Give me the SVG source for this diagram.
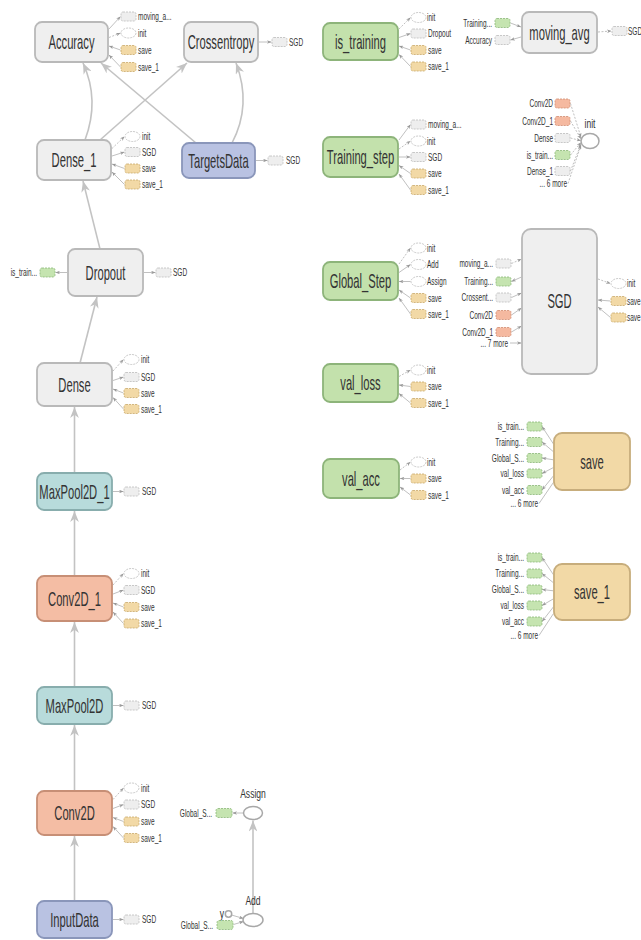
<svg xmlns="http://www.w3.org/2000/svg" width="641" height="940" viewBox="0 0 641 940">
<style>
.nb{stroke-width:1.8}
.n-grey{fill:#efefef;stroke:#b9b9b9}
.n-green{fill:#c3e1ac;stroke:#8db47a}
.n-blue{fill:#b9c2e2;stroke:#8a96ba}
.n-teal{fill:#b8dbdb;stroke:#88adad}
.n-salmon{fill:#f4bda4;stroke:#c78f76}
.n-tan{fill:#f2d9a6;stroke:#c7ad7c}
.sb{stroke-width:.8;stroke-dasharray:2 1}
.s-grey{fill:#eeeeee;stroke:#bcbcbc}
.s-tan{fill:#f2d9a6;stroke:#c9a96b}
.s-green{fill:#c5e4b0;stroke:#8cb878}
.s-salmon{fill:#f5b9a0;stroke:#d08d72}
.s-ell{fill:#ffffff;stroke:#bbbbbb;stroke-width:.8;stroke-dasharray:2 1}
.op{fill:#ffffff;stroke:#a8a8a8;stroke-width:1.5}
.nl{font-family:"Liberation Sans",Arial,sans-serif;font-size:20px;fill:#333333;text-anchor:middle}
.sl{font-family:"Liberation Sans",Arial,sans-serif;font-size:10.5px;fill:#333333}
.ol{font-family:"Liberation Sans",Arial,sans-serif;font-size:13px;fill:#333333;text-anchor:middle}
.r{text-anchor:end}
.e{stroke:#c3c3c3;stroke-width:1.6;fill:none;marker-end:url(#ah)}
.a{stroke:#b0b0b0;stroke-width:.8;fill:none}
.ae{marker-end:url(#sa)}
.as{marker-start:url(#sa)}
.d{stroke-dasharray:2 1.5}
</style>
<defs>
<marker id="ah" viewBox="0 0 10 8" refX="10" refY="4" markerWidth="11" markerHeight="8.8" markerUnits="userSpaceOnUse" orient="auto"><path d="M0,0 L10,4 L0,8 L3,4 z" fill="#c3c3c3"/></marker>
<marker id="sa" viewBox="0 0 10 8" refX="10" refY="4" markerWidth="4.5" markerHeight="3.6" markerUnits="userSpaceOnUse" orient="auto-start-reverse"><path d="M0,0 L10,4 L0,8 L3,4 z" fill="#999999"/></marker>
</defs>

<g id="connectors">
<line class="e" x1="74.5" y1="901" x2="74.5" y2="836"/>
<line class="e" x1="74.5" y1="791" x2="74.5" y2="725"/>
<line class="e" x1="74.5" y1="687" x2="74.5" y2="622"/>
<line class="e" x1="74.5" y1="576" x2="74.5" y2="511"/>
<line class="e" x1="74.5" y1="473" x2="74.5" y2="407"/>
<line class="e" x1="80" y1="363" x2="97" y2="297"/>
<line class="e" x1="100" y1="249" x2="83" y2="181"/>
<path class="e" d="M85,140 Q100,100 83,63"/>
<line class="e" x1="100" y1="140" x2="187" y2="63"/>
<line class="e" x1="196" y1="143" x2="101" y2="63"/>
<path class="e" d="M232,143 Q252,105 236,63"/>
<line class="e" x1="253" y1="913" x2="253" y2="820.5"/>

<line class="a ae" x1="109" y1="29" x2="120.5" y2="16.5"/>
<line class="a d ae" x1="109" y1="37.5" x2="120.5" y2="33"/>
<line class="a as" x1="109" y1="46" x2="120.5" y2="50"/>
<line class="a as" x1="109" y1="55" x2="120.5" y2="67"/>
<line class="a ae" x1="259" y1="42" x2="271.5" y2="42"/>
<line class="a d ae" x1="112" y1="148.5" x2="124.5" y2="136.5"/>
<line class="a ae" x1="112" y1="156" x2="124.5" y2="152"/>
<line class="a as" x1="112" y1="164" x2="124.5" y2="168.5"/>
<line class="a as" x1="112" y1="172" x2="124.5" y2="184.5"/>
<line class="a ae" x1="256" y1="160.5" x2="267.5" y2="160.5"/>
<line class="a ae" x1="144" y1="272.5" x2="155.5" y2="272.5"/>
<line class="a ae" x1="67" y1="272.5" x2="55.5" y2="272.5"/>
<line class="a d ae" x1="113" y1="371" x2="123.5" y2="359.5"/>
<line class="a ae" x1="113" y1="380.5" x2="123.5" y2="377"/>
<line class="a as" x1="113" y1="389" x2="123.5" y2="393"/>
<line class="a as" x1="113" y1="397.5" x2="123.5" y2="409"/>
<line class="a ae" x1="113" y1="491.5" x2="123.5" y2="491.5"/>
<line class="a d ae" x1="113" y1="585" x2="123.5" y2="573.5"/>
<line class="a ae" x1="113" y1="594" x2="123.5" y2="590"/>
<line class="a as" x1="113" y1="603" x2="123.5" y2="607"/>
<line class="a as" x1="113" y1="612" x2="123.5" y2="623.5"/>
<line class="a ae" x1="113" y1="705.5" x2="123.5" y2="705.5"/>
<line class="a d ae" x1="113" y1="799.5" x2="123.5" y2="788"/>
<line class="a ae" x1="113" y1="808.5" x2="123.5" y2="804.5"/>
<line class="a as" x1="113" y1="817.5" x2="123.5" y2="821.5"/>
<line class="a as" x1="113" y1="826.5" x2="123.5" y2="838"/>
<line class="a ae" x1="113" y1="919.5" x2="123.5" y2="919.5"/>

<line class="a d ae" x1="399" y1="29" x2="410.5" y2="17.5"/>
<line class="a ae" x1="399" y1="37.5" x2="410.5" y2="33.5"/>
<line class="a as" x1="399" y1="46" x2="410.5" y2="50"/>
<line class="a as" x1="399" y1="54.5" x2="410.5" y2="66.5"/>
<line class="a ae" x1="399" y1="140" x2="410.5" y2="124.5"/>
<line class="a d ae" x1="399" y1="149" x2="410.5" y2="141"/>
<line class="a ae" x1="399" y1="157" x2="410.5" y2="157"/>
<line class="a as" x1="399" y1="165.5" x2="410.5" y2="173.5"/>
<line class="a as" x1="399" y1="174" x2="410.5" y2="190"/>
<line class="a d ae" x1="399" y1="264" x2="410.5" y2="248"/>
<line class="a ae" x1="399" y1="272.5" x2="410.5" y2="264.5"/>
<line class="a as" x1="399" y1="281.5" x2="410.5" y2="281.5"/>
<line class="a as" x1="399" y1="290" x2="410.5" y2="298"/>
<line class="a as" x1="399" y1="298" x2="410.5" y2="314"/>
<line class="a d ae" x1="399" y1="376.5" x2="410.5" y2="370"/>
<line class="a as" x1="399" y1="385" x2="410.5" y2="386.5"/>
<line class="a as" x1="399" y1="393.5" x2="410.5" y2="403"/>
<line class="a d ae" x1="400" y1="470" x2="410.5" y2="462"/>
<line class="a as" x1="400" y1="478.5" x2="410.5" y2="478.5"/>
<line class="a as" x1="400" y1="487" x2="410.5" y2="495"/>

<line class="a ae" x1="510.5" y1="23" x2="521" y2="27"/>
<line class="a ae" x1="521" y1="37" x2="510.5" y2="40"/>
<line class="a d ae" x1="598" y1="32" x2="611.5" y2="31"/>

<line class="a d ae" x1="570.5" y1="103.5" x2="581" y2="137.3"/>
<line class="a d ae" x1="570.5" y1="121" x2="581" y2="139"/>
<line class="a d ae" x1="570.5" y1="138" x2="581" y2="140.7"/>
<line class="a d ae" x1="570.5" y1="155" x2="581" y2="142.4"/>
<line class="a d ae" x1="570.5" y1="171" x2="581" y2="144"/>
<line class="a d ae" x1="568" y1="183.5" x2="581" y2="145.3"/>

<line class="a d ae" x1="511.5" y1="263.5" x2="521.5" y2="259"/>
<line class="a ae" x1="521.5" y1="277" x2="511.5" y2="281.5"/>
<line class="a ae" x1="511.5" y1="297.5" x2="521.5" y2="293"/>
<line class="a ae" x1="511.5" y1="315" x2="521.5" y2="308"/>
<line class="a ae" x1="511.5" y1="332" x2="521.5" y2="326"/>
<line class="a ae" x1="510" y1="343" x2="521.5" y2="343"/>
<line class="a d ae" x1="598" y1="279" x2="610.5" y2="283.5"/>
<line class="a as" x1="598" y1="300" x2="610.5" y2="301"/>
<line class="a as" x1="598" y1="307" x2="610.5" y2="317.5"/>

<line class="a ae" x1="553.5" y1="444" x2="542" y2="426.5"/>
<line class="a ae" x1="553.5" y1="451.8" x2="542" y2="442"/>
<line class="a ae" x1="553.5" y1="459.8" x2="542" y2="458"/>
<line class="a ae" x1="553.5" y1="467.5" x2="542" y2="473.5"/>
<line class="a ae" x1="553.5" y1="475.8" x2="542" y2="490"/>
<line class="a" x1="553.5" y1="482.3" x2="539" y2="503.5"/>
<line class="a ae" x1="553.5" y1="574.8" x2="542" y2="557.5"/>
<line class="a ae" x1="553.5" y1="582.8" x2="542" y2="573.5"/>
<line class="a ae" x1="553.5" y1="590.8" x2="542" y2="589.5"/>
<line class="a ae" x1="553.5" y1="598.8" x2="542" y2="605.5"/>
<line class="a ae" x1="553.5" y1="606.8" x2="542" y2="621.5"/>
<line class="a" x1="553.5" y1="613.5" x2="539" y2="635.5"/>

<line class="a ae" x1="243" y1="813" x2="232.5" y2="813"/>
<line class="a ae" x1="231.5" y1="915" x2="243.5" y2="918.5"/>
<line class="a ae" x1="233.5" y1="924.5" x2="243.5" y2="921.5"/>
</g>

<g id="accuracy">
<rect class="nb n-grey" x="35" y="22" width="73" height="40" rx="7"/>
<text class="nl" transform="translate(71.5,49) scale(.56,1)">Accuracy</text>
<rect class="sb s-grey" x="121" y="12" width="15" height="9" rx="2"/>
<text class="sl" transform="translate(138,20) scale(.62,1)">moving_a...</text>
<ellipse class="s-ell" cx="128.5" cy="33" rx="7.5" ry="5"/>
<text class="sl" transform="translate(138,36.5) scale(.62,1)">init</text>
<rect class="sb s-tan" x="121" y="45.5" width="15" height="9" rx="2"/>
<text class="sl" transform="translate(138,53.5) scale(.62,1)">save</text>
<rect class="sb s-tan" x="121" y="62.5" width="15" height="9" rx="2"/>
<text class="sl" transform="translate(138,70.5) scale(.62,1)">save_1</text>
</g>

<g id="crossentropy">
<rect class="nb n-grey" x="184" y="22" width="74" height="40" rx="7"/>
<text class="nl" transform="translate(221,49) scale(.56,1)">Crossentropy</text>
<rect class="sb s-grey" x="272" y="37.5" width="15" height="9" rx="2"/>
<text class="sl" transform="translate(289,45.5) scale(.62,1)">SGD</text>
</g>

<g id="dense_1">
<rect class="nb n-grey" x="37" y="140" width="74" height="40" rx="7"/>
<text class="nl" transform="translate(74,167) scale(.56,1)">Dense_1</text>
<ellipse class="s-ell" cx="132.5" cy="136.5" rx="7.5" ry="5"/>
<text class="sl" transform="translate(142,140) scale(.62,1)">init</text>
<rect class="sb s-grey" x="125" y="147.5" width="15" height="9" rx="2"/>
<text class="sl" transform="translate(142,155.5) scale(.62,1)">SGD</text>
<rect class="sb s-tan" x="125" y="164" width="15" height="9" rx="2"/>
<text class="sl" transform="translate(142,172) scale(.62,1)">save</text>
<rect class="sb s-tan" x="125" y="180" width="15" height="9" rx="2"/>
<text class="sl" transform="translate(142,188) scale(.62,1)">save_1</text>
</g>

<g id="targetsdata">
<rect class="nb n-blue" x="182" y="143" width="73" height="35" rx="7"/>
<text class="nl" transform="translate(218.5,167.5) scale(.56,1)">TargetsData</text>
<rect class="sb s-grey" x="268" y="156" width="15" height="9" rx="2"/>
<text class="sl" transform="translate(286,164) scale(.62,1)">SGD</text>
</g>

<g id="dropout">
<rect class="nb n-grey" x="68" y="249" width="75" height="47" rx="7"/>
<text class="nl" transform="translate(105.5,279.5) scale(.56,1)">Dropout</text>
<rect class="sb s-green" x="40" y="268" width="15" height="9" rx="2"/>
<text class="sl r" transform="translate(37,276) scale(.62,1)">is_train...</text>
<rect class="sb s-grey" x="156" y="268" width="15" height="9" rx="2"/>
<text class="sl" transform="translate(173,276) scale(.62,1)">SGD</text>
</g>

<g id="dense">
<rect class="nb n-grey" x="37" y="363" width="75" height="43" rx="7"/>
<text class="nl" transform="translate(74.5,391.5) scale(.56,1)">Dense</text>
<ellipse class="s-ell" cx="131.5" cy="359.5" rx="7.5" ry="5"/>
<text class="sl" transform="translate(141,363) scale(.62,1)">init</text>
<rect class="sb s-grey" x="124" y="372.5" width="15" height="9" rx="2"/>
<text class="sl" transform="translate(141,380.5) scale(.62,1)">SGD</text>
<rect class="sb s-tan" x="124" y="388.5" width="15" height="9" rx="2"/>
<text class="sl" transform="translate(141,396.5) scale(.62,1)">save</text>
<rect class="sb s-tan" x="124" y="404.5" width="15" height="9" rx="2"/>
<text class="sl" transform="translate(141,412.5) scale(.62,1)">save_1</text>
</g>

<g id="maxpool2d_1">
<rect class="nb n-teal" x="37" y="473" width="75" height="37" rx="7"/>
<text class="nl" transform="translate(74.5,498.5) scale(.56,1)">MaxPool2D_1</text>
<rect class="sb s-grey" x="124" y="487" width="15" height="9" rx="2"/>
<text class="sl" transform="translate(142,495) scale(.62,1)">SGD</text>
</g>

<g id="conv2d_1">
<rect class="nb n-salmon" x="37" y="576" width="75" height="45" rx="7"/>
<text class="nl" transform="translate(74.5,605.5) scale(.56,1)">Conv2D_1</text>
<ellipse class="s-ell" cx="131.5" cy="573.5" rx="7.5" ry="5"/>
<text class="sl" transform="translate(141,577) scale(.62,1)">init</text>
<rect class="sb s-grey" x="124" y="585.5" width="15" height="9" rx="2"/>
<text class="sl" transform="translate(141,593.5) scale(.62,1)">SGD</text>
<rect class="sb s-tan" x="124" y="602.5" width="15" height="9" rx="2"/>
<text class="sl" transform="translate(141,610.5) scale(.62,1)">save</text>
<rect class="sb s-tan" x="124" y="619" width="15" height="9" rx="2"/>
<text class="sl" transform="translate(141,627) scale(.62,1)">save_1</text>
</g>

<g id="maxpool2d">
<rect class="nb n-teal" x="37" y="687" width="75" height="37" rx="7"/>
<text class="nl" transform="translate(74.5,712.5) scale(.56,1)">MaxPool2D</text>
<rect class="sb s-grey" x="124" y="701" width="15" height="9" rx="2"/>
<text class="sl" transform="translate(142,709) scale(.62,1)">SGD</text>
</g>

<g id="conv2d">
<rect class="nb n-salmon" x="37" y="791" width="75" height="44" rx="7"/>
<text class="nl" transform="translate(74.5,820) scale(.56,1)">Conv2D</text>
<ellipse class="s-ell" cx="131.5" cy="788" rx="7.5" ry="5"/>
<text class="sl" transform="translate(141,791.5) scale(.62,1)">init</text>
<rect class="sb s-grey" x="124" y="800" width="15" height="9" rx="2"/>
<text class="sl" transform="translate(141,808) scale(.62,1)">SGD</text>
<rect class="sb s-tan" x="124" y="817" width="15" height="9" rx="2"/>
<text class="sl" transform="translate(141,825) scale(.62,1)">save</text>
<rect class="sb s-tan" x="124" y="833.5" width="15" height="9" rx="2"/>
<text class="sl" transform="translate(141,841.5) scale(.62,1)">save_1</text>
</g>

<g id="inputdata">
<rect class="nb n-blue" x="37" y="901" width="75" height="37" rx="7"/>
<text class="nl" transform="translate(74.5,926.5) scale(.56,1)">InputData</text>
<rect class="sb s-grey" x="124" y="915" width="15" height="9" rx="2"/>
<text class="sl" transform="translate(142,923) scale(.62,1)">SGD</text>
</g>

<g id="is_training">
<rect class="nb n-green" x="323" y="23" width="75" height="37" rx="7"/>
<text class="nl" transform="translate(360.5,48.5) scale(.56,1)">is_training</text>
<ellipse class="s-ell" cx="418.5" cy="17.5" rx="7.5" ry="5"/>
<text class="sl" transform="translate(427,21) scale(.62,1)">init</text>
<rect class="sb s-grey" x="411" y="29" width="15" height="9" rx="2"/>
<text class="sl" transform="translate(428,37) scale(.62,1)">Dropout</text>
<rect class="sb s-tan" x="411" y="45.5" width="15" height="9" rx="2"/>
<text class="sl" transform="translate(428,53.5) scale(.62,1)">save</text>
<rect class="sb s-tan" x="411" y="62" width="15" height="9" rx="2"/>
<text class="sl" transform="translate(428,70) scale(.62,1)">save_1</text>
</g>

<g id="training_step">
<rect class="nb n-green" x="323" y="137" width="75" height="40" rx="7"/>
<text class="nl" transform="translate(360.5,164) scale(.56,1)">Training_step</text>
<rect class="sb s-grey" x="411" y="120" width="15" height="9" rx="2"/>
<text class="sl" transform="translate(428,128) scale(.62,1)">moving_a...</text>
<ellipse class="s-ell" cx="418.5" cy="141" rx="7.5" ry="5"/>
<text class="sl" transform="translate(427,144.5) scale(.62,1)">init</text>
<rect class="sb s-grey" x="411" y="152.5" width="15" height="9" rx="2"/>
<text class="sl" transform="translate(428,160.5) scale(.62,1)">SGD</text>
<rect class="sb s-tan" x="411" y="169" width="15" height="9" rx="2"/>
<text class="sl" transform="translate(428,177) scale(.62,1)">save</text>
<rect class="sb s-tan" x="411" y="185.5" width="15" height="9" rx="2"/>
<text class="sl" transform="translate(428,193.5) scale(.62,1)">save_1</text>
</g>

<g id="global_step">
<rect class="nb n-green" x="323" y="262" width="75" height="38" rx="7"/>
<text class="nl" transform="translate(360.5,288) scale(.56,1)">Global_Step</text>
<ellipse class="s-ell" cx="418.5" cy="248" rx="7.5" ry="5"/>
<text class="sl" transform="translate(427,251.5) scale(.62,1)">init</text>
<ellipse class="s-ell" cx="418.5" cy="264.5" rx="7.5" ry="5"/>
<text class="sl" transform="translate(427,268) scale(.62,1)">Add</text>
<ellipse class="s-ell" cx="418.5" cy="281.5" rx="7.5" ry="5"/>
<text class="sl" transform="translate(427,285) scale(.62,1)">Assign</text>
<rect class="sb s-tan" x="411" y="293.5" width="15" height="9" rx="2"/>
<text class="sl" transform="translate(428,301.5) scale(.62,1)">save</text>
<rect class="sb s-tan" x="411" y="309.5" width="15" height="9" rx="2"/>
<text class="sl" transform="translate(428,317.5) scale(.62,1)">save_1</text>
</g>

<g id="val_loss">
<rect class="nb n-green" x="323" y="364" width="75" height="38" rx="7"/>
<text class="nl" transform="translate(360.5,390) scale(.56,1)">val_loss</text>
<ellipse class="s-ell" cx="418.5" cy="370" rx="7.5" ry="5"/>
<text class="sl" transform="translate(427,373.5) scale(.62,1)">init</text>
<rect class="sb s-tan" x="411" y="382" width="15" height="9" rx="2"/>
<text class="sl" transform="translate(428,390) scale(.62,1)">save</text>
<rect class="sb s-tan" x="411" y="398.5" width="15" height="9" rx="2"/>
<text class="sl" transform="translate(428,406.5) scale(.62,1)">save_1</text>
</g>

<g id="val_acc">
<rect class="nb n-green" x="323" y="459" width="76" height="39" rx="7"/>
<text class="nl" transform="translate(361,485.5) scale(.56,1)">val_acc</text>
<ellipse class="s-ell" cx="418.5" cy="462" rx="7.5" ry="5"/>
<text class="sl" transform="translate(427,465.5) scale(.62,1)">init</text>
<rect class="sb s-tan" x="411" y="474" width="15" height="9" rx="2"/>
<text class="sl" transform="translate(428,482) scale(.62,1)">save</text>
<rect class="sb s-tan" x="411" y="490.5" width="15" height="9" rx="2"/>
<text class="sl" transform="translate(428,498.5) scale(.62,1)">save_1</text>
</g>

<g id="moving_avg">
<rect class="nb n-grey" x="522" y="12" width="75" height="41" rx="7"/>
<text class="nl" transform="translate(559.5,39.5) scale(.56,1)">moving_avg</text>
<rect class="sb s-green" x="495" y="18.5" width="15" height="9" rx="2"/>
<text class="sl r" transform="translate(492,26.5) scale(.62,1)">Training...</text>
<rect class="sb s-grey" x="495" y="35.5" width="15" height="9" rx="2"/>
<text class="sl r" transform="translate(492,43.5) scale(.62,1)">Accuracy</text>
<rect class="sb s-grey" x="612" y="26.5" width="15" height="9" rx="2"/>
<text class="sl" transform="translate(628,34.5) scale(.62,1)">SGD</text>
</g>

<g id="init">
<ellipse class="op" cx="590" cy="141" rx="9" ry="7.5"/>
<text class="ol" transform="translate(590,128) scale(.66,1)">init</text>
<rect class="sb s-salmon" x="555" y="99" width="15" height="9" rx="2"/>
<text class="sl r" transform="translate(553,107) scale(.62,1)">Conv2D</text>
<rect class="sb s-salmon" x="555" y="116.5" width="15" height="9" rx="2"/>
<text class="sl r" transform="translate(553,124.5) scale(.62,1)">Conv2D_1</text>
<rect class="sb s-grey" x="555" y="133.5" width="15" height="9" rx="2"/>
<text class="sl r" transform="translate(553,141.5) scale(.62,1)">Dense</text>
<rect class="sb s-green" x="555" y="150.5" width="15" height="9" rx="2"/>
<text class="sl r" transform="translate(553,158.5) scale(.62,1)">is_train...</text>
<rect class="sb s-grey" x="555" y="166.5" width="15" height="9" rx="2"/>
<text class="sl r" transform="translate(553,174.5) scale(.62,1)">Dense_1</text>
<text class="sl r" transform="translate(567,187) scale(.62,1)">... 6 more</text>
</g>

<g id="sgd">
<rect class="nb n-grey" x="522" y="229" width="75" height="145" rx="9"/>
<text class="nl" transform="translate(559.5,308) scale(.56,1)">SGD</text>
<rect class="sb s-grey" x="496" y="259" width="15" height="9" rx="2"/>
<text class="sl r" transform="translate(493,267) scale(.62,1)">moving_a...</text>
<rect class="sb s-green" x="496" y="277" width="15" height="9" rx="2"/>
<text class="sl r" transform="translate(493,285) scale(.62,1)">Training...</text>
<rect class="sb s-grey" x="496" y="293" width="15" height="9" rx="2"/>
<text class="sl r" transform="translate(493,301) scale(.62,1)">Crossent...</text>
<rect class="sb s-salmon" x="496" y="310.5" width="15" height="9" rx="2"/>
<text class="sl r" transform="translate(493,318.5) scale(.62,1)">Conv2D</text>
<rect class="sb s-salmon" x="496" y="327.5" width="15" height="9" rx="2"/>
<text class="sl r" transform="translate(493,335.5) scale(.62,1)">Conv2D_1</text>
<text class="sl r" transform="translate(508,346.5) scale(.62,1)">... 7 more</text>
<ellipse class="s-ell" cx="618.5" cy="283.5" rx="7.5" ry="5"/>
<text class="sl" transform="translate(627,287) scale(.62,1)">init</text>
<rect class="sb s-tan" x="611" y="296.5" width="15" height="9" rx="2"/>
<text class="sl" transform="translate(627,304.5) scale(.62,1)">save</text>
<rect class="sb s-tan" x="611" y="313" width="15" height="9" rx="2"/>
<text class="sl" transform="translate(627,321) scale(.62,1)">save</text>
</g>

<g id="save">
<rect class="nb n-tan" x="554" y="433" width="76" height="57" rx="8"/>
<text class="nl" transform="translate(592,468.5) scale(.56,1)">save</text>
<rect class="sb s-green" x="527" y="422" width="15" height="9" rx="2"/>
<text class="sl r" transform="translate(524,430) scale(.62,1)">is_train...</text>
<rect class="sb s-green" x="527" y="437.5" width="15" height="9" rx="2"/>
<text class="sl r" transform="translate(524,445.5) scale(.62,1)">Training...</text>
<rect class="sb s-green" x="527" y="453.5" width="15" height="9" rx="2"/>
<text class="sl r" transform="translate(524,461.5) scale(.62,1)">Global_S...</text>
<rect class="sb s-green" x="527" y="469" width="15" height="9" rx="2"/>
<text class="sl r" transform="translate(524,477) scale(.62,1)">val_loss</text>
<rect class="sb s-green" x="527" y="485.5" width="15" height="9" rx="2"/>
<text class="sl r" transform="translate(524,493.5) scale(.62,1)">val_acc</text>
<text class="sl r" transform="translate(538,506.5) scale(.62,1)">... 6 more</text>
</g>

<g id="save_1">
<rect class="nb n-tan" x="554" y="564" width="76" height="56" rx="8"/>
<text class="nl" transform="translate(592,599) scale(.56,1)">save_1</text>
<rect class="sb s-green" x="527" y="553" width="15" height="9" rx="2"/>
<text class="sl r" transform="translate(524,561) scale(.62,1)">is_train...</text>
<rect class="sb s-green" x="527" y="569" width="15" height="9" rx="2"/>
<text class="sl r" transform="translate(524,577) scale(.62,1)">Training...</text>
<rect class="sb s-green" x="527" y="585" width="15" height="9" rx="2"/>
<text class="sl r" transform="translate(524,593) scale(.62,1)">Global_S...</text>
<rect class="sb s-green" x="527" y="601" width="15" height="9" rx="2"/>
<text class="sl r" transform="translate(524,609) scale(.62,1)">val_loss</text>
<rect class="sb s-green" x="527" y="617" width="15" height="9" rx="2"/>
<text class="sl r" transform="translate(524,625) scale(.62,1)">val_acc</text>
<text class="sl r" transform="translate(538,638.5) scale(.62,1)">... 6 more</text>
</g>

<g id="assign">
<ellipse class="op" cx="253" cy="813" rx="9.5" ry="6.5"/>
<text class="ol" transform="translate(253,798) scale(.66,1)">Assign</text>
<rect class="sb s-green" x="216" y="808.5" width="16" height="9" rx="2"/>
<text class="sl r" transform="translate(212,816.5) scale(.62,1)">Global_S...</text>
</g>

<g id="add">
<ellipse class="op" cx="253" cy="920" rx="10" ry="6.5"/>
<text class="ol" transform="translate(253,905) scale(.66,1)">Add</text>
<circle class="op" cx="228.5" cy="914" r="3.2" stroke-width="1"/>
<text class="ol r" transform="translate(224,917.5) scale(.66,1)">y</text>
<rect class="sb s-green" x="217" y="920.5" width="16" height="9" rx="2"/>
<text class="sl r" transform="translate(213,928.5) scale(.62,1)">Global_S...</text>
</g>
</svg>
